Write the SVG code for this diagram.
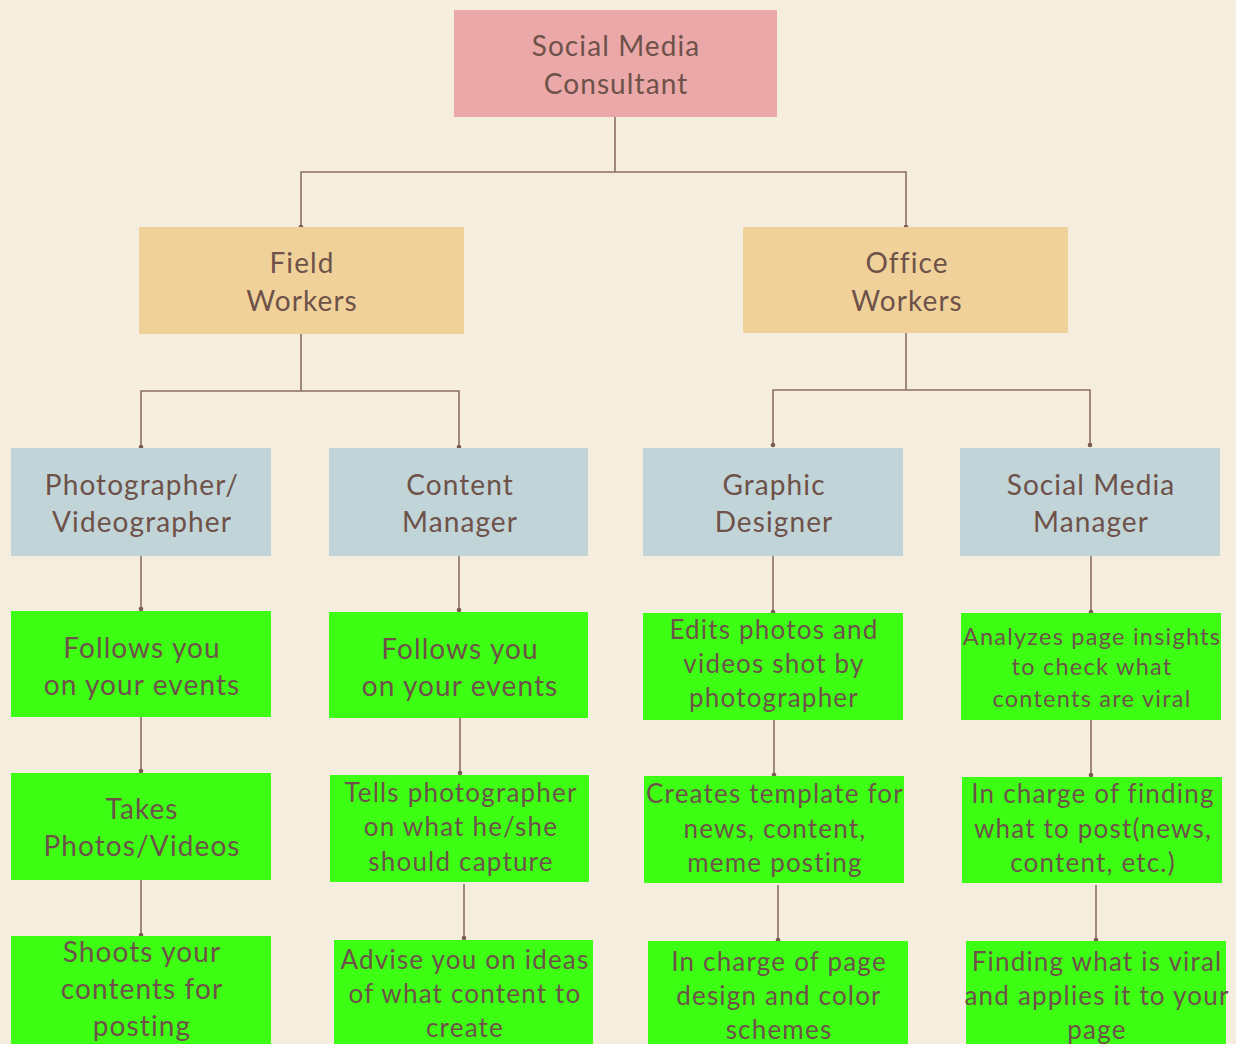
<svg xmlns="http://www.w3.org/2000/svg" width="1236" height="1044" viewBox="0 0 1236 1044">
<style>
text{font-family:Lato,"Noto Sans","Liberation Sans",sans-serif;fill:#6E5149;text-anchor:middle;dominant-baseline:central}
.big{font-size:28px;letter-spacing:1.1px}
.mid{font-size:26px;letter-spacing:1.2px}
.sm{font-size:23.5px;letter-spacing:1.25px}
.root{fill:#EAA9A8}
.l1{fill:#F0D19A}
.l2{fill:#C1D4D8}
.g{fill:#3CFF14}
.c line,.c path{stroke:#8C6E66;stroke-width:1.6;fill:none}
.c circle{fill:#7A5A52}
</style>
<rect width="1236" height="1044" fill="#F5EDDE"/>
<g id="connectors" class="c">
<path d="M615,117V172M301,227V172H906V227"/>
<circle cx="301" cy="227" r="2.3"/><circle cx="906" cy="227" r="2.3"/>
<path d="M301,334V391M141,447V391H459V447"/>
<circle cx="141" cy="447" r="2.3"/><circle cx="459" cy="447" r="2.3"/>
<path d="M906,333V390M773,445V390H1090V445"/>
<circle cx="773" cy="445" r="2.3"/><circle cx="1090" cy="445" r="2.3"/>
<line x1="141" y1="556" x2="141" y2="609"/><circle cx="141" cy="609" r="2.3"/>
<line x1="459" y1="556" x2="459" y2="610"/><circle cx="459" cy="610" r="2.3"/>
<line x1="773" y1="556" x2="773" y2="612"/><circle cx="773" cy="612" r="2.3"/>
<line x1="1091" y1="556" x2="1091" y2="612"/><circle cx="1091" cy="612" r="2.3"/>
<line x1="141" y1="717" x2="141" y2="771"/><circle cx="141" cy="771" r="2.3"/>
<line x1="460" y1="718" x2="460" y2="773"/><circle cx="460" cy="773" r="2.3"/>
<line x1="774" y1="720" x2="774" y2="775"/><circle cx="774" cy="775" r="2.3"/>
<line x1="1091" y1="720" x2="1091" y2="775"/><circle cx="1091" cy="775" r="2.3"/>
<line x1="141" y1="880" x2="141" y2="935"/><circle cx="141" cy="935" r="2.3"/>
<line x1="464" y1="884" x2="464" y2="938"/><circle cx="464" cy="938" r="2.3"/>
<line x1="778" y1="885" x2="778" y2="940"/><circle cx="778" cy="940" r="2.3"/>
<line x1="1096" y1="885" x2="1096" y2="940"/><circle cx="1096" cy="940" r="2.3"/>
</g>
<g id="root"><rect class="root" x="454" y="10" width="323" height="107"/><text class="big" x="616" y="45">Social Media</text><text class="big" x="616" y="83">Consultant</text></g>
<g id="field"><rect class="l1" x="139" y="227" width="325" height="107"/><text class="big" x="302" y="262">Field</text><text class="big" x="302" y="300">Workers</text></g>
<g id="office"><rect class="l1" x="743" y="227" width="325" height="106"/><text class="big" x="907" y="262">Office</text><text class="big" x="907" y="300">Workers</text></g>
<g id="photographer"><rect class="l2" x="11" y="448" width="260" height="108"/><text class="big" x="142" y="484">Photographer/</text><text class="big" x="142" y="521">Videographer</text></g>
<g id="contentmgr"><rect class="l2" x="329" y="448" width="259" height="108"/><text class="big" x="460" y="484">Content</text><text class="big" x="460" y="521">Manager</text></g>
<g id="graphic"><rect class="l2" x="643" y="448" width="260" height="108"/><text class="big" x="774" y="484">Graphic</text><text class="big" x="774" y="521">Designer</text></g>
<g id="smm"><rect class="l2" x="960" y="448" width="260" height="108"/><text class="big" x="1091" y="484">Social Media</text><text class="big" x="1091" y="521">Manager</text></g>
<g id="p1"><rect class="g" x="11" y="611" width="260" height="106"/><text class="big" x="142" y="647">Follows you</text><text class="big" x="142" y="684">on your events</text></g>
<g id="c1"><rect class="g" x="329" y="612" width="259" height="106"/><text class="big" x="460" y="648">Follows you</text><text class="big" x="460" y="685">on your events</text></g>
<g id="g1"><rect class="g" x="643" y="613" width="260" height="107"/><text class="mid" x="774" y="629">Edits photos and</text><text class="mid" x="774" y="663">videos shot by</text><text class="mid" x="774" y="697">photographer</text></g>
<g id="s1"><rect class="g" x="961" y="613" width="260" height="107"/><text class="sm" x="1092" y="636">Analyzes page insights</text><text class="sm" x="1092" y="666">to check what</text><text class="sm" x="1092" y="698">contents are viral</text></g>
<g id="p2"><rect class="g" x="11" y="773" width="260" height="107"/><text class="big" x="142" y="808">Takes</text><text class="big" x="142" y="845">Photos/Videos</text></g>
<g id="c2"><rect class="g" x="330" y="775" width="259" height="107"/><text class="mid" x="461" y="792">Tells photographer</text><text class="mid" x="461" y="826">on what he/she</text><text class="mid" x="461" y="861">should capture</text></g>
<g id="g2"><rect class="g" x="644" y="776" width="260" height="107"/><text class="mid" x="775" y="793">Creates template for</text><text class="mid" x="775" y="828">news, content,</text><text class="mid" x="775" y="862">meme posting</text></g>
<g id="s2"><rect class="g" x="962" y="777" width="260" height="106"/><text class="mid" x="1093" y="793">In charge of finding</text><text class="mid" x="1093" y="828">what to post(news,</text><text class="mid" x="1093" y="862">content, etc.)</text></g>
<g id="p3"><rect class="g" x="11" y="936" width="260" height="108"/><text class="big" x="142" y="951">Shoots your</text><text class="big" x="142" y="988">contents for</text><text class="big" x="142" y="1025">posting</text></g>
<g id="c3"><rect class="g" x="334" y="940" width="259" height="104"/><text class="mid" x="465" y="959">Advise you on ideas</text><text class="mid" x="465" y="993">of what content to</text><text class="mid" x="465" y="1027">create</text></g>
<g id="g3"><rect class="g" x="648" y="941" width="260" height="103"/><text class="mid" x="779" y="961">In charge of page</text><text class="mid" x="779" y="995">design and color</text><text class="mid" x="779" y="1029">schemes</text></g>
<g id="s3"><rect class="g" x="966" y="941" width="260" height="103"/><text class="mid" x="1097" y="961">Finding what is viral</text><text class="mid" x="1097" y="995">and applies it to your</text><text class="mid" x="1097" y="1029">page</text></g>
</svg>
